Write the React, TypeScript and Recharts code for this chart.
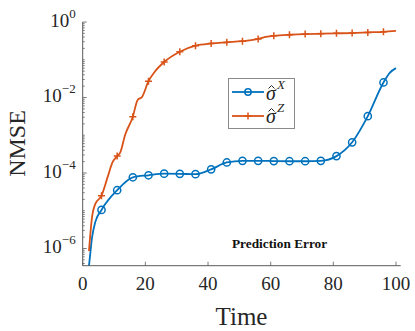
import React from "react";
import { LineChart, Line, XAxis, YAxis, Legend } from "recharts";

// sample times and values
const blueTime = [1, 2, 3, 4, 6, 11, 16, 21, 26, 31, 36, 41, 46, 51, 56, 61, 66, 71, 76, 81, 86, 91, 96, 98, 100];
const blueValues = [
  1e-7, 3.5e-7, 2e-6, 5e-6, 1.05e-5, 3.5e-5, 7.7e-5, 8.7e-5, 9.6e-5, 9.5e-5, 9.3e-5, 1.25e-4, 1.9e-4,
  2.1e-4, 2.1e-4, 2.07e-4, 2.05e-4, 2.05e-4, 2.1e-4, 2.8e-4, 6.5e-4, 3.2e-3, 2.5e-2, 4.5e-2, 6e-2,
];
const orangeTime = [2, 3, 4, 6, 8, 9.5, 11, 12, 13.5, 16, 17.5, 19, 21, 23, 26, 31, 36, 41, 46, 51, 56, 58, 61, 66, 71, 76, 81, 86, 91, 96, 100];
const orangeValues = [
  8.5e-7, 7e-6, 1.5e-5, 2.5e-5, 8e-5, 1.9e-4, 2.8e-4, 3.5e-4, 1e-3, 3.1e-3, 8.5e-3, 1.05e-2, 2.7e-2,
  4.8e-2, 8.7e-2, 0.163, 0.236, 0.27, 0.29, 0.31, 0.355, 0.4, 0.43, 0.46, 0.48, 0.49, 0.5, 0.51, 0.53, 0.55, 0.58,
];
const markerTimes = [6, 11, 16, 21, 26, 31, 36, 41, 46, 51, 56, 61, 66, 71, 76, 81, 86, 91, 96];

const xTicks = [0, 20, 40, 60, 80, 100];
const yLabelExps = [0, -2, -4, -6];
const yDomain = [3.5e-7, 1];

const yTicks: number[] = [];
for (let k = -7; k <= 0; k++) {
  for (let m = 1; m <= 9; m++) {
    const v = m * Math.pow(10, k);
    if (v >= yDomain[0] && v <= yDomain[1]) yTicks.push(v);
  }
}

const blueData = blueTime.map((t, i) => ({ t, v: blueValues[i] }));
const orangeData = orangeTime.map((t, i) => ({ t, v: orangeValues[i] }));

const BLUE = "#0072BD";
const ORANGE = "#D95319";
const AX = "#5a5a5a";
const TXT = "#262626";
const FONT = "Liberation Serif, Times New Roman, DejaVu Serif, serif";
const serif = { fontFamily: FONT };

const expOf = (v: number) => {
  const l = Math.log10(v);
  const e = Math.round(l);
  return Math.abs(l - e) < 1e-6 ? e : null;
};

function YTick(props: any) {
  const { x, y, payload, side } = props;
  const e = expOf(payload.value);
  const labelled = e !== null && yLabelExps.includes(e);
  const len = labelled ? 4 : 2;
  const dir = side === "left" ? 1 : -1;
  return (
    <g>
      <line x1={x} x2={x + dir * len} y1={y} y2={y} stroke={AX} strokeWidth={0.8} />
      {labelled && side === "left" && (
        <text x={x - 7} y={y + 5} textAnchor="end" style={{ ...serif, fontSize: 19 }} fill={TXT}>
          <tspan>10</tspan>
          <tspan dy={-9} style={{ fontSize: 13 }}>{e === 0 ? "0" : "\u2212" + Math.abs(e as number)}</tspan>
        </text>
      )}
    </g>
  );
}

function XTick(props: any) {
  const { x, y, payload, side } = props;
  const dir = side === "bottom" ? -1 : 1;
  return (
    <g>
      <line x1={x} x2={x} y1={y} y2={y + dir * 4} stroke={AX} strokeWidth={0.8} />
      {side === "bottom" && (
        <text x={x} y={y + 24} textAnchor="middle" style={{ ...serif, fontSize: 19 }} fill={TXT}>
          {payload.value}
        </text>
      )}
    </g>
  );
}

function makeDot(kind: "circle" | "plus") {
  return (props: any) => {
    const { cx, cy, payload, index } = props;
    if (!markerTimes.includes(payload.t)) return <g key={"d" + index} />;
    if (kind === "circle") {
      return <circle key={"d" + index} cx={cx} cy={cy} r={3.6} fill="none" stroke={BLUE} strokeWidth={1.5} />;
    }
    return (
      <g key={"d" + index} stroke={ORANGE} strokeWidth={1.5}>
        <line x1={cx - 3.5} x2={cx + 3.5} y1={cy} y2={cy} />
        <line x1={cx} x2={cx} y1={cy - 3.5} y2={cy + 3.5} />
      </g>
    );
  };
}

function SigmaHat({ x, y, sup }: { x: number; y: number; sup: string }) {
  return (
    <g>
      <text x={x} y={y} style={{ ...serif, fontSize: 20, fontStyle: "italic" }} fill={TXT}>
        {"\u03C3"}
        <tspan dx={1} dy={-11} style={{ fontSize: 13 }}>{sup}</tspan>
      </text>
      <path d={`M${x + 2.5} ${y - 11.5} L${x + 5.5} ${y - 14.5} L${x + 8.5} ${y - 11.5}`} fill="none" stroke={TXT} strokeWidth={1} />
    </g>
  );
}

function LegendBox() {
  return (
    <svg width={67} height={51} style={{ display: "block", overflow: "visible" }}>
      <rect x={0.5} y={0.5} width={66} height={50} fill="#fff" stroke="#8a8a8a" strokeWidth={1} />
      <line x1={4} x2={36} y1={14} y2={14} stroke={BLUE} strokeWidth={1.8} />
      <circle cx={20} cy={14} r={3.2} fill="none" stroke={BLUE} strokeWidth={1.5} />
      <SigmaHat x={38} y={22} sup="X" />
      <line x1={4} x2={36} y1={38} y2={38} stroke={ORANGE} strokeWidth={1.8} />
      <line x1={16.5} x2={23.5} y1={38} y2={38} stroke={ORANGE} strokeWidth={1.5} />
      <line x1={20} x2={20} y1={34.5} y2={41.5} stroke={ORANGE} strokeWidth={1.5} />
      <SigmaHat x={38} y={45} sup="Z" />
    </svg>
  );
}

export default function App() {
  return (
    <div style={{ position: "absolute", left: 0, top: 0, width: 415, height: 331, background: "#fff" }}>
      <LineChart width={415} height={331} margin={{ top: 22, right: 14.3, left: 0, bottom: 0 }}>
        <XAxis
          xAxisId="b"
          dataKey="t"
          type="number"
          domain={[0, 101.5]}
          ticks={xTicks}
          interval={0}
          height={65.3}
          tickSize={0}
          tickMargin={0}
          tickLine={false}
          axisLine={{ stroke: AX, strokeWidth: 1 }}
          tick={<XTick side="bottom" />}
          allowDataOverflow
          label={{
            content: () => (
              <text x={241.5} y={325} textAnchor="middle" style={{ ...serif, fontSize: 25 }} fill={TXT}>
                Time
              </text>
            ),
          }}
        />
        <XAxis
          xAxisId="t"
          orientation="top"
          dataKey="t"
          type="number"
          domain={[0, 101.5]}
          ticks={xTicks}
          interval={0}
          height={0}
          tickSize={0}
          tickMargin={0}
          tickLine={false}
          axisLine={{ stroke: AX, strokeWidth: 1 }}
          tick={<XTick side="top" />}
          allowDataOverflow
        />
        <YAxis
          yAxisId="l"
          scale="log"
          type="number"
          domain={yDomain}
          ticks={yTicks}
          interval={0}
          width={82.7}
          tickSize={0}
          tickMargin={0}
          tickLine={false}
          axisLine={{ stroke: AX, strokeWidth: 1 }}
          tick={<YTick side="left" />}
          allowDataOverflow
          label={{
            content: () => (
              <text
                x={17}
                y={143.5}
                transform="rotate(-90 17 143.5)"
                textAnchor="middle"
                dominantBaseline="central"
                style={{ ...serif, fontSize: 24 }}
                fill={TXT}
              >
                NMSE
              </text>
            ),
          }}
        />
        <YAxis
          yAxisId="r"
          orientation="right"
          scale="log"
          type="number"
          domain={yDomain}
          ticks={yTicks}
          interval={0}
          width={0}
          tickSize={0}
          tickMargin={0}
          tickLine={false}
          axisLine={{ stroke: AX, strokeWidth: 1 }}
          tick={<YTick side="right" />}
          allowDataOverflow
        />
        <Legend
          layout="horizontal"
          verticalAlign="middle"
          align="center"
          wrapperStyle={{ left: 228, top: 78, width: 67, height: 51 }}
          content={() => <LegendBox />}
        />
        <Line
          xAxisId="b"
          yAxisId="l"
          data={blueData}
          dataKey="v"
          type="monotone"
          stroke={BLUE}
          strokeWidth={1.8}
          dot={makeDot("circle")}
          activeDot={false}
          isAnimationActive={false}
        />
        <Line
          xAxisId="b"
          yAxisId="l"
          data={orangeData}
          dataKey="v"
          type="monotone"
          stroke={ORANGE}
          strokeWidth={1.8}
          dot={makeDot("plus")}
          activeDot={false}
          isAnimationActive={false}
        />
        <text x={232} y={247.5} style={{ ...serif, fontSize: 13.3, fontWeight: "bold" }} fill="#111">
          Prediction Error
        </text>
      </LineChart>
    </div>
  );
}
